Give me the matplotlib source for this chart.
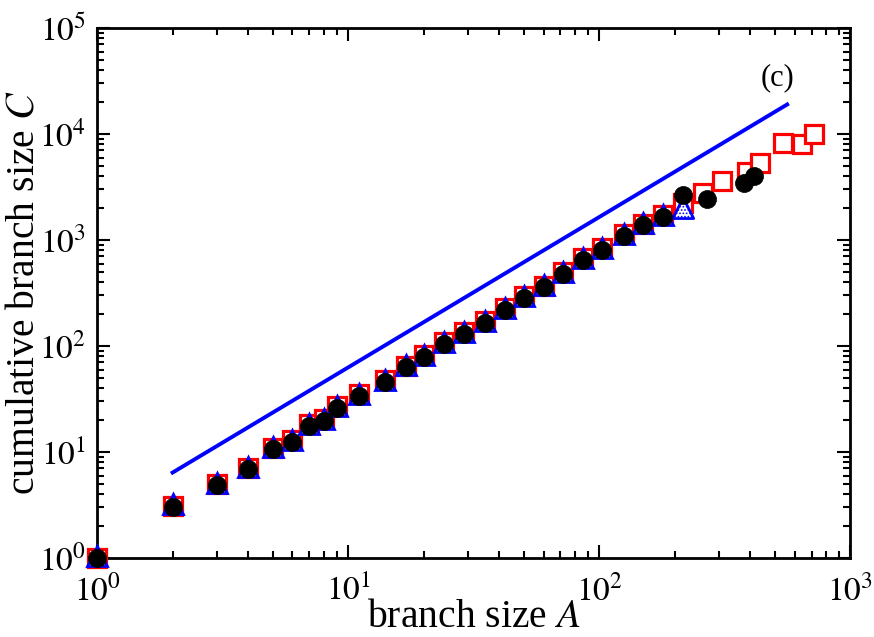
import matplotlib
matplotlib.use('Agg')
import matplotlib.pyplot as plt
from matplotlib.ticker import LogLocator, FuncFormatter, NullFormatter
import numpy as np

plt.rcParams['font.family'] = ['Liberation Serif', 'DejaVu Serif']
plt.rcParams['mathtext.fontset'] = 'stix'
plt.rcParams['hatch.color'] = 'black'
plt.rcParams['hatch.linewidth'] = 0.8

# red open squares
sq_A = [1, 2, 3, 4, 5, 6, 7, 8, 9, 11, 14, 17, 20, 24, 29, 35, 42, 50, 60,
        72, 86, 103, 125, 149, 180, 216, 260, 308, 387, 438, 539, 641, 714]
sq_C = [1.0, 3.1, 5.0, 7.0, 11.0, 13.0, 18.3, 20.3, 27.3, 35.0, 48, 65, 82,
        108, 136, 172, 228, 294, 372, 500, 670, 845, 1130, 1430, 1740, 2250,
        2800, 3630, 4400, 5360, 8280, 8050, 9940]

# blue triangles (last one hatched)
tri_A = [1, 2, 3, 4, 5, 6, 7, 8, 9, 11, 14, 17, 20, 24, 29, 35, 42, 50, 60,
         72, 86, 103, 125, 149, 180]
tri_C = [1.05, 3.2, 5.1, 7.2, 11.2, 13.1, 18.4, 20.5, 27.4, 35.2, 48, 66, 82,
         108, 136, 173, 228, 294, 374, 500, 675, 840, 1135, 1445, 1720]
tri_hatch_A = [216]
tri_hatch_C = [2000]

# black filled circles
ci_A = [1, 2, 3, 4, 5, 6, 7, 8, 9, 11, 14, 17, 20, 24, 29, 35, 42, 50, 60,
        72, 86, 103, 125, 149, 180, 216, 268, 376, 415]
ci_C = [1.0, 3.05, 4.9, 6.9, 10.7, 12.5, 17.6, 19.6, 26.2, 33.7, 46, 63, 78,
        104, 130, 166, 219, 282, 358, 478, 648, 805, 1090, 1383, 1637, 2660,
        2420, 3470, 4015]

# power-law guide line
line_A = [2, 560]
line_C = [6.4, 19000]

fig = plt.figure(figsize=(8.74, 6.37), dpi=100)
ax = fig.add_axes([0.111, 0.124, 0.862, 0.832])

ax.plot(line_A, line_C, color='#0000ff', lw=2.8, zorder=2)
ax.plot(sq_A, sq_C, ls='none', marker='s', ms=13.5, mfc='white',
        mec='#ff0000', mew=2.3, zorder=3, clip_on=False)
ax.plot(tri_A, tri_C, ls='none', marker='^', ms=15, mfc='white',
        mec='#0000ff', mew=2.0, zorder=4, clip_on=False)
ax.scatter(tri_hatch_A, tri_hatch_C, marker='^', s=15**2, facecolor='white',
           edgecolor='#0000ff', linewidth=2.0, hatch='.....', zorder=4)
ax.plot(ci_A, ci_C, ls='none', marker='o', ms=13, mfc='black',
        mec='black', mew=0.5, zorder=5, clip_on=False)

ax.set_xscale('log')
ax.set_yscale('log')
ax.set_xlim(1, 1000)
ax.set_ylim(1, 1e5)

fmt = FuncFormatter(lambda v, p: r'$10^{%d}$' % int(round(np.log10(v))))
for axis in (ax.xaxis, ax.yaxis):
    axis.set_major_locator(LogLocator(base=10, numticks=10))
    axis.set_minor_locator(LogLocator(base=10, subs=np.arange(2, 10),
                                      numticks=20))
    axis.set_major_formatter(fmt)
    axis.set_minor_formatter(NullFormatter())

ax.tick_params(which='both', direction='in', top=True, right=True,
               labelsize=24, width=1.5)
ax.tick_params(which='major', length=9.5)
ax.tick_params(which='minor', length=5)
ax.tick_params(axis='x', which='major', pad=12)
ax.tick_params(axis='y', which='major', pad=8)
for s in ax.spines.values():
    s.set_linewidth(2)

ax.set_xlabel(r'branch size $A$', fontsize=28.5, labelpad=-6)
ax.set_ylabel(r'cumulative branch size $C$', fontsize=28.5)
ax.yaxis.set_label_coords(-0.073, 0.5)
ax.text(0.903, 0.906, '(c)', transform=ax.transAxes, fontsize=22,
        ha='center', va='center')

fig.savefig('out.png', dpi=100)
